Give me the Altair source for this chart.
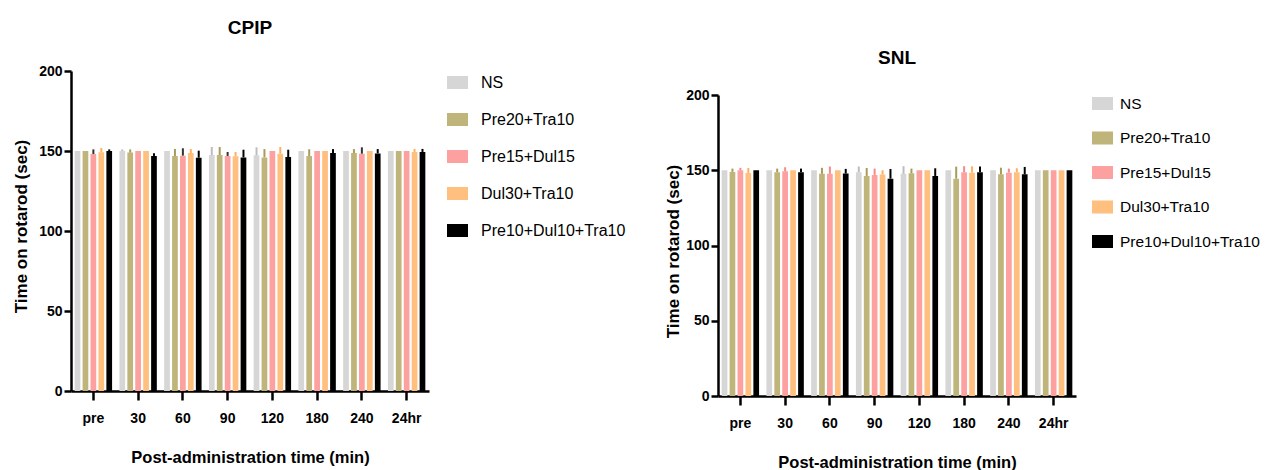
import altair as alt
import pandas as pd

times = ["pre", "30", "60", "90", "120", "180", "240", "24hr"]
groups = ["NS", "Pre20+Tra10", "Pre15+Dul15", "Dul30+Tra10", "Pre10+Dul10+Tra10"]
colors = ["#d6d6d6", "#bfb47a", "#fca0a0", "#ffbf7f", "#000000"]

# CPIP panel: means and (upper) SEM per group across time points
cpip_means = {
    "NS":                [150.0, 150.0, 150.0, 147.5, 147.3, 150.0, 150.0, 150.0],
    "Pre20+Tra10":       [150.0, 149.0, 146.9, 147.5, 146.0, 146.9, 148.7, 150.0],
    "Pre15+Dul15":       [148.1, 150.0, 147.1, 146.9, 150.0, 150.0, 148.3, 150.0],
    "Dul30+Tra10":       [149.2, 150.0, 148.7, 146.7, 148.3, 150.0, 150.0, 149.4],
    "Pre10+Dul10+Tra10": [150.0, 146.9, 145.8, 146.0, 146.2, 148.7, 148.5, 149.4],
}
cpip_errs = {
    "NS":                [0.0, 1.0, 0.0, 5.0, 5.0, 0.0, 0.0, 0.0],
    "Pre20+Tra10":       [0.0, 2.0, 4.4, 5.0, 5.2, 4.2, 2.5, 0.0],
    "Pre15+Dul15":       [2.9, 0.0, 4.6, 2.5, 0.0, 0.0, 4.0, 0.0],
    "Dul30+Tra10":       [2.7, 0.0, 2.5, 2.7, 4.2, 0.0, 0.0, 1.9],
    "Pre10+Dul10+Tra10": [1.0, 1.7, 4.4, 4.8, 4.6, 2.5, 2.7, 1.9],
}
cpip_err_colors = ["#bdbdbd", "#a89c5c", "#333333", "#ffb060", "#000000"]

# SNL panel
snl_means = {
    "NS":                [150.0, 150.0, 150.0, 148.7, 147.6, 150.0, 150.0, 150.0],
    "Pre20+Tra10":       [148.9, 148.7, 147.6, 146.2, 148.0, 144.4, 147.3, 150.0],
    "Pre15+Dul15":       [150.0, 149.3, 147.6, 146.9, 150.0, 148.7, 148.4, 150.0],
    "Dul30+Tra10":       [148.2, 150.0, 150.0, 147.1, 150.0, 148.4, 148.7, 150.0],
    "Pre10+Dul10+Tra10": [150.0, 148.7, 147.8, 144.4, 146.2, 148.7, 147.3, 150.0],
}
snl_errs = {
    "NS":                [0.0, 0.0, 0.0, 3.8, 5.1, 0.0, 0.0, 0.0],
    "Pre20+Tra10":       [2.2, 2.4, 4.0, 5.3, 3.1, 8.0, 4.4, 0.0],
    "Pre15+Dul15":       [1.6, 2.7, 4.9, 4.2, 0.0, 4.0, 2.7, 0.0],
    "Dul30+Tra10":       [3.3, 0.0, 0.0, 2.9, 0.0, 4.2, 2.7, 0.0],
    "Pre10+Dul10+Tra10": [0.0, 2.4, 3.1, 6.4, 5.1, 3.8, 4.9, 0.0],
}
snl_err_colors = ["#bdbdbd", "#a89c5c", "#f08c8c", "#ffb060", "#000000"]

FONT = "Liberation Sans"
RECT = "M-1,-0.62L1,-0.62L1,0.62L-1,0.62Z"


def make_df(means, errs, ecols):
    rows = []
    for gi, g in enumerate(groups):
        for ti, t in enumerate(times):
            m = means[g][ti]
            e = errs[g][ti]
            rows.append({"time": t, "group": g, "mean": m, "hi": m + e,
                         "ecol": ecols[gi]})
    return pd.DataFrame(rows)


def panel(df, height, y_top, title_text, title_offset,
          legend_x, legend_y, row_pad, label_offset, legend_font,
          ytitle_y, ytitle_pad, xlab_pad, xtitle_pad):
    base = alt.Chart(df)
    x = alt.X("time:N", sort=times,
              scale=alt.Scale(paddingInner=0.164, paddingOuter=0.082),
              axis=alt.Axis(title="Post-administration time (min)", labelAngle=0,
                            tickSize=9, labelPadding=xlab_pad, titlePadding=xtitle_pad,
                            labelFontSize=14, titleFontSize=16.5))
    xo = alt.XOffset("group:N", sort=groups,
                     scale=alt.Scale(domain=groups, paddingInner=0.28, paddingOuter=0))
    y = alt.Y("mean:Q", scale=alt.Scale(domain=[0, 200], nice=False,
                                        range=[height, y_top]),
              axis=alt.Axis(title="Time on rotarod (sec)", values=[0, 50, 100, 150, 200],
                            tickSize=7, labelPadding=2, labelFontSize=14,
                            titleFontSize=17, titleY=ytitle_y, titlePadding=ytitle_pad,
                            grid=False))
    bars = base.mark_bar().encode(
        x=x, xOffset=xo, y=y,
        color=alt.Color("group:N", sort=groups,
                        scale=alt.Scale(domain=groups, range=colors),
                        legend=alt.Legend(title=None, orient="none",
                                          legendX=legend_x, legendY=legend_y,
                                          symbolType=RECT, symbolSize=441,
                                          symbolStrokeWidth=0, symbolOpacity=1,
                                          labelFontSize=legend_font,
                                          labelFont=FONT, labelColor="black",
                                          labelOffset=label_offset,
                                          rowPadding=row_pad, padding=0)),
    )
    errs = base.mark_rule(strokeWidth=2).encode(
        x=x, xOffset=xo, y="mean:Q", y2="hi:Q",
        color=alt.Color("ecol:N", scale=None),
    )
    return alt.layer(bars, errs).properties(
        width=358, height=height,
        title=alt.TitleParams(title_text, fontSize=19, fontWeight="bold",
                              font=FONT, anchor="middle", frame="group",
                              offset=title_offset, color="black"),
    )


left = panel(make_df(cpip_means, cpip_errs, cpip_err_colors), 320, 0,
             "CPIP", 26, 376, 1, 18, 13, 16, 155, 8, 11, 24)
right = panel(make_df(snl_means, snl_errs, snl_err_colors), 325, 24,
              "SNL", 3, 374, 22, 15.5, 7, 15.5, 180, 3, 11, 24)

chart = alt.hconcat(left, right, spacing=38).resolve_scale(
    color="independent", x="independent", y="independent", xOffset="independent"
).resolve_legend(color="independent").properties(
    padding={"left": 4, "top": 11, "right": 0, "bottom": 0}
).configure_view(stroke=None).configure_axis(
    domainColor="black", domainWidth=2.5, tickColor="black", tickWidth=2.5,
    labelColor="black", titleColor="black", labelFont=FONT, titleFont=FONT,
    labelFontWeight="bold", titleFontWeight="bold"
)

chart.save("out.html", embed_options={"renderer": "svg", "actions": False})
